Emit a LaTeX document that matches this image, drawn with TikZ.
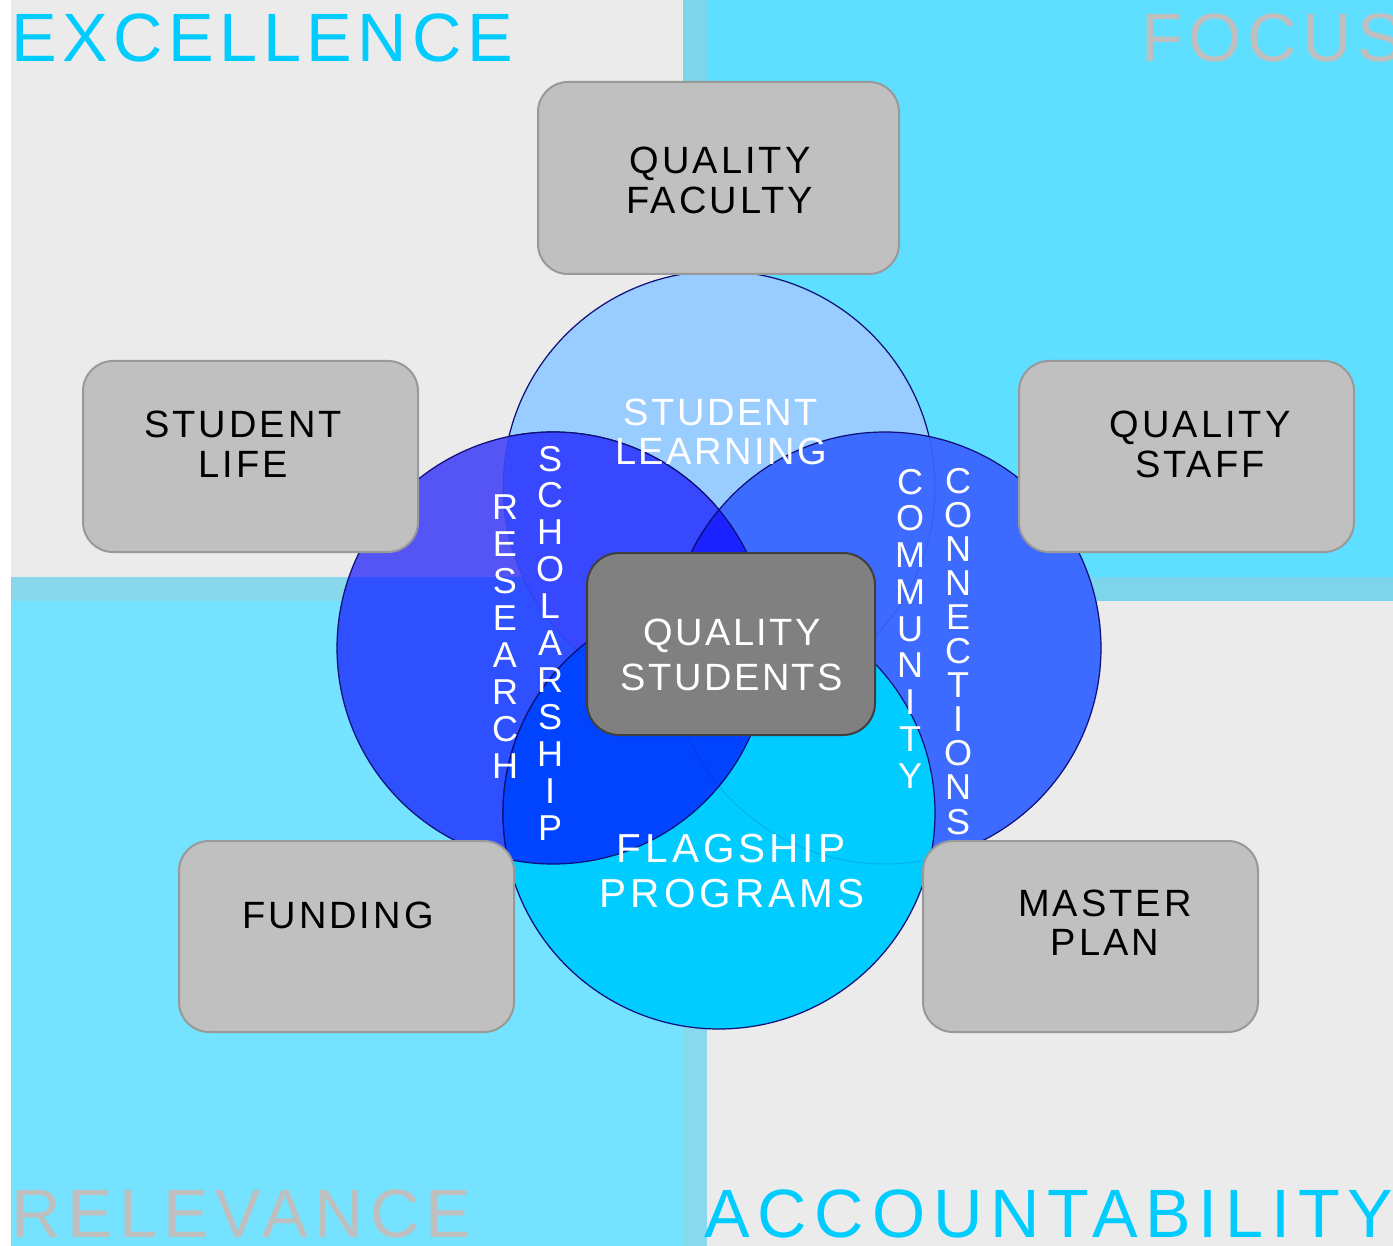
\documentclass[tikz,border=0pt]{standalone}
\usepackage{fontspec}
\setmainfont{Liberation Sans}
\newfontfamily\trackfont[LetterSpace=8]{Liberation Sans}
\newfontfamily\lighttrack[LetterSpace=6.5]{Liberation Sans}
\newfontfamily\widetrack[LetterSpace=10]{Liberation Sans}
\newfontfamily\relfont[LetterSpace=9.3]{Liberation Sans}
\newfontfamily\accfont[LetterSpace=11.4]{Liberation Sans}

% page and quadrant colours
\definecolor{bgGray}{HTML}{EBEBEB}
\definecolor{bgCyanTop}{HTML}{5EDFFF}
\definecolor{bgCyanBot}{HTML}{75E3FF}
\definecolor{stripA}{HTML}{7DD5EB}
\definecolor{stripB}{HTML}{89D7EA}
\definecolor{stripC}{HTML}{8AD8EB}
\definecolor{titleCyan}{HTML}{00CCFF}
\definecolor{titleGray}{HTML}{BFBFBF}
% circle colours
\definecolor{cTop}{HTML}{99CCFF}
\definecolor{cLeftUp}{HTML}{5555F5}
\definecolor{cLeftDn}{HTML}{2E50FF}
\definecolor{cLeftTop}{HTML}{3848FF}
\definecolor{cRight}{HTML}{3D6BFF}
\definecolor{cCore}{HTML}{1A22FF}
\definecolor{cBot}{HTML}{00CCFF}
\definecolor{cLeftBot}{HTML}{0044FF}
\definecolor{edgeNavy}{HTML}{10107A}
% box colours
\definecolor{boxFill}{HTML}{BFC0BF}
\definecolor{boxEdge}{HTML}{999999}
\definecolor{hubFill}{HTML}{808080}
\definecolor{hubEdge}{HTML}{3F3F3F}

\tikzset{
  circ/.style={draw=edgeNavy, line width=0.6pt},
  faint/.style={draw=edgeNavy, line width=0.5pt, draw opacity=0.14},
  gbox/.style={draw=boxEdge, line width=1pt, fill=boxFill, rounded corners=15pt,
               inner sep=0pt, minimum width=167.5pt, minimum height=95.5pt},
  hub/.style={draw=hubEdge, line width=1pt, fill=hubFill, rounded corners=16pt,
              inner sep=0pt, minimum width=144pt, minimum height=91pt},
  boxtxt/.style={font=\trackfont\fontsize{19}{19}\selectfont, text=black,
                 anchor=base, inner sep=0pt},
  whitetxt/.style={font=\lighttrack\fontsize{19}{19}\selectfont, text=white,
                   anchor=base, inner sep=0pt},
  bigwhite/.style={font=\widetrack\fontsize{20.25}{20.25}\selectfont, text=white,
                   anchor=base, inner sep=0pt},
  stk/.style={font=\fontsize{18}{18}\selectfont, text=white, anchor=base, inner sep=0pt},
  quad/.style={font=\trackfont\fontsize{34.2}{34.2}\selectfont, anchor=base west,
               inner sep=0pt},
}

\begin{document}
\begin{tikzpicture}[x=0.5pt, y=-0.5pt]
\useasboundingbox (0,0) rectangle (1393,1246);
\fill[white] (0,0) rectangle (1393,1246);

% four quadrants and the strips where they overlap
\fill[bgGray]    (11,0)    rectangle (683,577);
\fill[bgCyanTop] (707,0)   rectangle (1393,577);
\fill[stripA]    (683,0)   rectangle (707,577);
\fill[stripA]    (707,577) rectangle (1393,601);
\fill[stripB]    (11,577)  rectangle (683,601);
\fill[stripC]    (683,577) rectangle (707,1246);
\fill[bgCyanBot] (11,601)  rectangle (683,1246);
\fill[bgGray]    (707,601) rectangle (1393,1246);

% circle centres
\coordinate (cT) at (719,487);
\coordinate (cL) at (553,648);
\coordinate (cR) at (885,648);
\coordinate (cB) at (719,813);

% top circle
\filldraw[fill=cTop, circ] (cT) circle[radius=216];
% left circle, tinted by the quadrant behind it
\begin{scope}
  \clip (cL) circle[radius=216];
  \fill[cLeftUp] (300,400) rectangle (800,577);
  \fill[cLeftDn] (300,577) rectangle (800,900);
\end{scope}
\draw[circ] (cL) circle[radius=216];
% left and top overlap
\begin{scope}
  \clip (cT) circle[radius=216];
  \filldraw[fill=cLeftTop, circ] (cL) circle[radius=216];
\end{scope}
% right circle
\filldraw[fill=cRight, circ] (cR) circle[radius=216];
% core where left, right and top meet
\begin{scope}
  \clip (cT) circle[radius=216];
  \clip (cR) circle[radius=216];
  \filldraw[fill=cCore, circ] (cL) circle[radius=216];
\end{scope}
\begin{scope}
  \clip (cT) circle[radius=216];
  \clip (cL) circle[radius=216];
  \draw[circ] (cR) circle[radius=216];
\end{scope}
% bottom circle
\filldraw[fill=cBot, circ] (cB) circle[radius=216];
% left and bottom overlap
\begin{scope}
  \clip (cB) circle[radius=216];
  \filldraw[fill=cLeftBot, circ] (cL) circle[radius=216];
\end{scope}
\begin{scope}
  \clip (cL) circle[radius=216];
  \draw[circ] (cB) circle[radius=216];
\end{scope}
% faint traces of the hidden edges
\foreach \c in {cT,cL,cR,cB} \draw[faint] (\c) circle[radius=216];

% quadrant titles
\node[quad, text=titleCyan] (excellence)     at (11,62)    {EXCELLENCE};
\node[quad, text=titleGray] (focus)          at (1141,62)  {FOCUS};
\node[quad, text=titleGray, font=\relfont\fontsize{34.2}{34.2}\selectfont]
      (relevance)      at (11,1237)  {RELEVANCE};
\node[quad, text=titleCyan, font=\accfont\fontsize{34.2}{34.2}\selectfont]
      (accountability) at (704,1237) {ACCOUNTABILITY};

% outer boxes
\node[gbox, minimum width=180.5pt, minimum height=96pt] (faculty) at (718.5,178) {};
\node[gbox] (life)    at (250.5,456.5)  {};
\node[gbox] (staff)   at (1186.5,456.5) {};
\node[gbox] (funding) at (346.5,936.5)  {};
\node[gbox] (plan)    at (1090.5,936.5) {};

\node[boxtxt] (facultyA) at (720,173.5) {QUALITY};
\node[boxtxt] (facultyB) at (720,213.5) {FACULTY};
\node[boxtxt] (lifeA)    at (243,437.5) {STUDENT};
\node[boxtxt] (lifeB)    at (243,477.5) {LIFE};
\node[boxtxt] (staffA)   at (1200,437.5) {QUALITY};
\node[boxtxt] (staffB)   at (1200,477.5) {STAFF};
\node[boxtxt] (fundingA) at (338,928.5) {FUNDING};
\node[boxtxt] (planA)    at (1105,916.5) {MASTER};
\node[boxtxt] (planB)    at (1105,955.5) {PLAN};

% circle labels
\node[whitetxt] (learnA) at (721,425) {STUDENT};
\node[whitetxt] (learnB) at (721,465) {LEARNING};
\node[bigwhite] (flagA)  at (731,862) {FLAGSHIP};
\node[bigwhite] (flagB)  at (732,907) {PROGRAMS};

\foreach \ch [count=\i from 0] in {R,E,S,E,A,R,C,H}
  \node[stk] (research-\i) at (505,519+37*\i) {\ch};
\foreach \ch [count=\i from 0] in {S,C,H,O,L,A,R,S,H,I,P}
  \node[stk] (scholarship-\i) at (550,471+36.9*\i) {\ch};
\foreach \ch [count=\i from 0] in {C,O,M,M,U,N,I,T,Y}
  \node[stk] (community-\i) at (910,494+36.75*\i) {\ch};
\foreach \ch [count=\i from 0] in {C,O,N,N,E,C,T,I,O,N,S}
  \node[stk] (connections-\i) at (958,493+34.1*\i) {\ch};

% central hub
\node[hub] (hub) at (731,644) {};
\node[whitetxt] (hubA) at (732,645) {QUALITY};
\node[whitetxt] (hubB) at (732,690) {STUDENTS};
\end{tikzpicture}
\end{document}
